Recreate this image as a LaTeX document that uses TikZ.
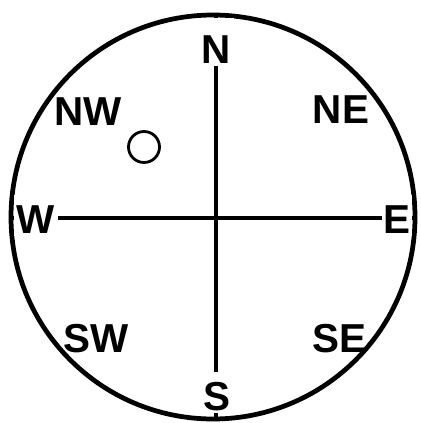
\documentclass[tikz,border=0pt]{standalone}
\usepackage{fontspec}
\setmainfont{Liberation Sans}
\usetikzlibrary{positioning}
\begin{document}
\begin{tikzpicture}[x=0.02cm,y=-0.02cm,
  lbl/.style={inner sep=0.06cm,text height=0.7cm,text depth=0pt,anchor=base,
    font=\fontsize{23}{28}\bfseries\selectfont},
  axislbl/.style={lbl,fill=white}]
\useasboundingbox (0,0) rectangle (420,423);
% outer ring
\draw[line width=2.7pt] (213,217) circle[radius=202];
\coordinate (top) at (216,15);
\coordinate (bot) at (216,419);
\coordinate (lft) at (11,218);
\coordinate (rgt) at (415,218);
\draw[line width=1.9pt] (top) -- (bot);
\draw[line width=1.9pt] (lft) -- (rgt);
% compass points
\node[axislbl,text height=0.84cm] (nN) at (216,63) {N};
\node[axislbl] (nS) at (217,410) {S};
\node[axislbl,inner xsep=0.05cm] (nW) at (36,233) {W};
\node[axislbl,inner xsep=0.04cm] (nE) at (397,233) {E};
\node[lbl] (nNW) at (88,125) {NW};
\node[lbl] (nNE) at (341,123) {NE};
\node[lbl] (nSW) at (96,352) {SW};
\node[lbl] (nSE) at (339,352) {SE};
\node[draw,circle,line width=1.6pt,inner sep=0pt,minimum size=0.62cm] (dot) at (144,147) {};
\end{tikzpicture}
\end{document}
